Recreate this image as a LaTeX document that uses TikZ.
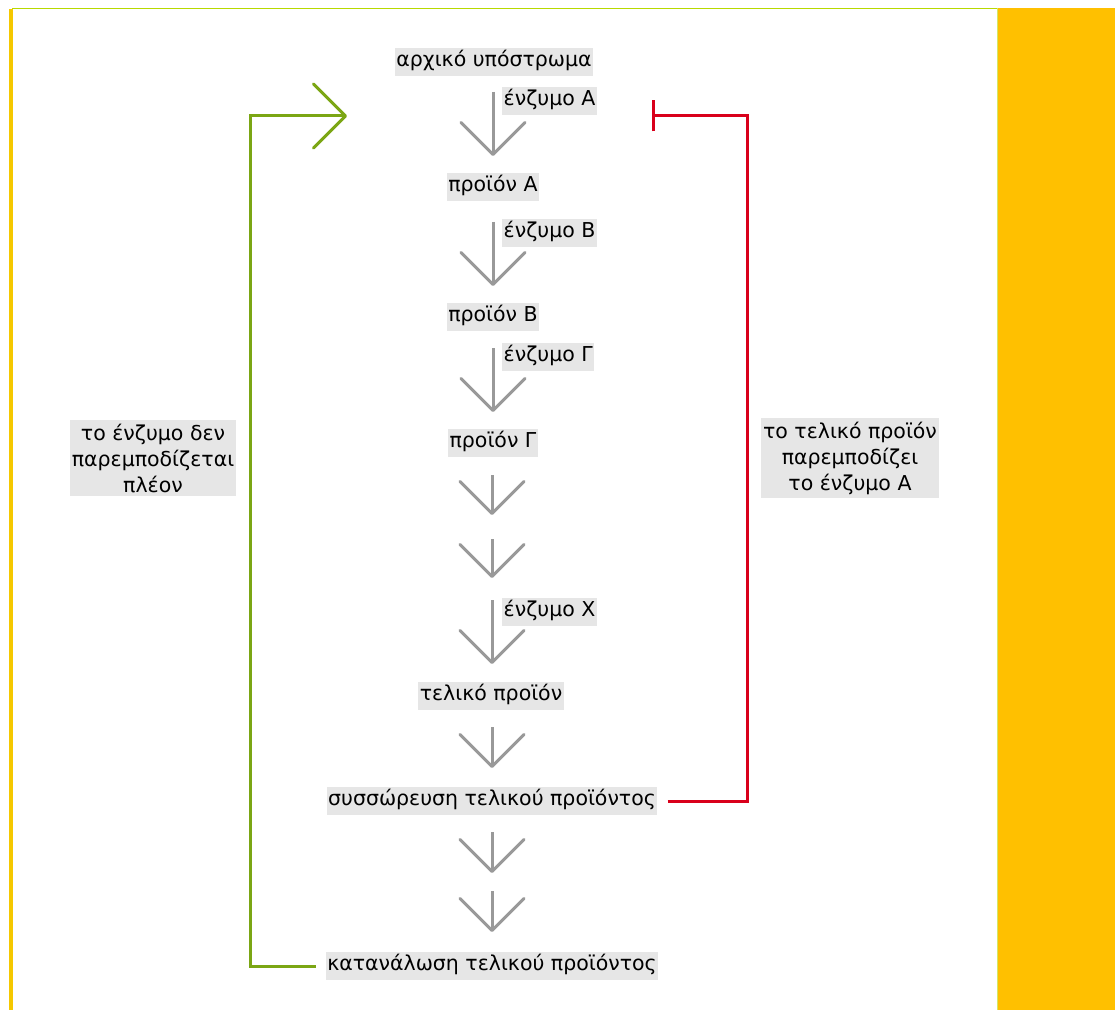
\documentclass[tikz,border=0pt]{standalone}
\usepackage{fontspec}
\setmainfont{DejaVu Sans}
\usetikzlibrary{arrows.meta}
\definecolor{flowgray}{HTML}{999999}
\definecolor{lblgray}{HTML}{E6E6E6}
\definecolor{loopgreen}{HTML}{7BA614}
\definecolor{inhred}{HTML}{D9001B}
\definecolor{panelyellow}{HTML}{FFC000}
\definecolor{stripeyellow}{HTML}{F5C800}
\definecolor{topgreen}{HTML}{B8D900}
\begin{document}
\begin{tikzpicture}[x=1pt,y=-1pt,
  lbl/.style={fill=lblgray, font=\fontsize{20.5}{26}\selectfont, inner xsep=1.5pt, inner ysep=4pt, text height=14.5pt, text depth=5pt},
  multilbl/.style={fill=lblgray, font=\fontsize{20.5}{26}\selectfont, align=center, inner xsep=2pt, inner ysep=4pt},
  flow/.style={draw=flowgray, line width=3pt, -{Straight Barb[length=32pt,width=64pt,line cap=round,line join=round]}},
  promote/.style={draw=loopgreen, line width=3pt, -{Straight Barb[length=32pt,width=64pt,line cap=round,line join=round]}},
  inhibit/.style={draw=inhred, line width=3pt, -{Bar[width=31pt]}}
]
% background and frame
\fill[white] (0,0) rectangle (1115,1010);
\fill[panelyellow] (997,8) rectangle (1115,1010);
\draw[topgreen!60, line width=1pt] (997.5,8) -- (997.5,1010);
\draw[topgreen, line width=1.5pt] (12,8.75) -- (997,8.75);
\fill[stripeyellow] (9,9.5) rectangle (12.5,1010);

% main pathway nodes
\node[lbl] (start) at (494,62) {αρχικό υπόστρωμα};
\node[lbl, anchor=west] (enzA) at (502,101) {ένζυμο Α};
\node[lbl] (pA) at (493,187) {προϊόν Α};
\node[lbl, anchor=west] (enzB) at (502,233) {ένζυμο Β};
\node[lbl] (pB) at (493,317) {προϊόν Β};
\node[lbl, anchor=west] (enzG) at (502,357) {ένζυμο Γ};
\node[lbl] (pG) at (493,443) {προϊόν Γ};
\node[lbl, anchor=west] (enzX) at (502,612) {ένζυμο Χ};
\node[lbl] (final) at (491,696) {τελικό προϊόν};
\node[lbl] (accum) at (492,801) {συσσώρευση τελικού προϊόντος};
\node[lbl] (consume) at (492,966) {κατανάλωση τελικού προϊόντος};

\node[multilbl] (leftlbl) at (153,458) {το ένζυμο δεν\\παρεμποδίζεται\\πλέον};
\node[multilbl] (rightlbl) at (850,458) {το τελικό προϊόν\\παρεμποδίζει\\το ένζυμο Α};

% arrow end points
\coordinate (a1s) at (493,92);  \coordinate (a1e) at (493,156);
\coordinate (a2s) at (493,222); \coordinate (a2e) at (493,286);
\coordinate (a3s) at (493,348); \coordinate (a3e) at (493,412);
\coordinate (a4s) at (492,475); \coordinate (a4e) at (492,515);
\coordinate (a5s) at (492,539); \coordinate (a5e) at (492,578);
\coordinate (a6s) at (492,600); \coordinate (a6e) at (492,664);
\coordinate (a7s) at (492,727); \coordinate (a7e) at (492,768);
\coordinate (a8s) at (492,832); \coordinate (a8e) at (492,873);
\coordinate (a9s) at (492,891); \coordinate (a9e) at (492,932);

\foreach \i in {1,...,9} { \draw[flow] (a\i s) -- (a\i e); }

% feedback loops
\coordinate (gcorner) at (250,116);
\coordinate (gtip) at (347,116);
\draw[promote] ([xshift=-10pt]consume.west) -| (gcorner) -- (gtip);

\coordinate (rcorner) at (747,116);
\coordinate (rbar) at (652,116);
\draw[inhibit] ([xshift=10pt]accum.east) -| (rcorner) -- (rbar);
\end{tikzpicture}
\end{document}
